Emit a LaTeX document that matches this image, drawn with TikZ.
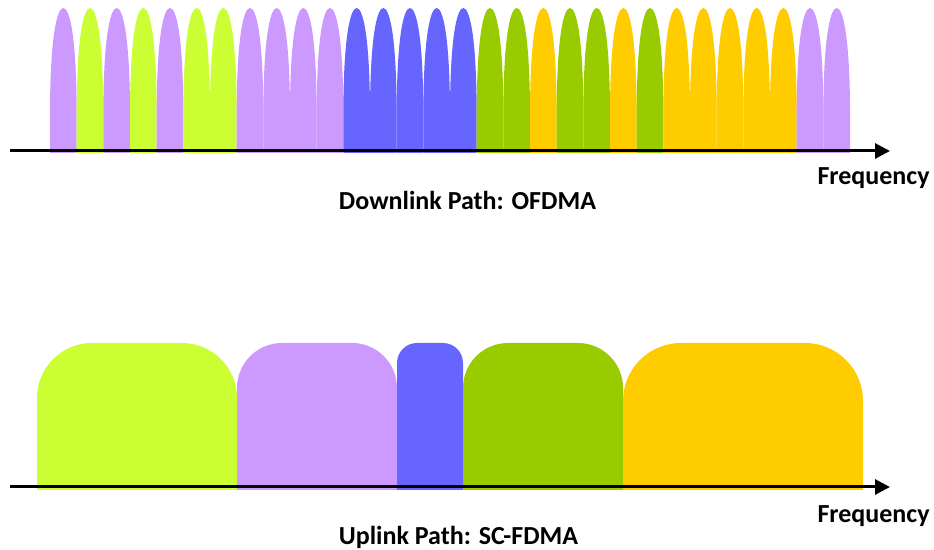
\documentclass[tikz,border=0pt]{standalone}
\usepackage{fontspec}
\setmainfont{Carlito}
\usetikzlibrary{arrows.meta}

\definecolor{chlilac}{HTML}{CC99FF}
\definecolor{chlime}{HTML}{CCFF33}
\definecolor{chblue}{HTML}{6666FF}
\definecolor{chgreen}{HTML}{99CC00}
\definecolor{chgold}{HTML}{FFCC00}

\tikzset{
  freqaxis/.style={line width=0.06cm, -{Triangle[length=0.3cm,width=0.3cm]}},
  axislabel/.style={font=\fontsize{14.8pt}{17pt}\selectfont\bfseries, inner sep=0pt}
}

\begin{document}
\begin{tikzpicture}[x=0.02cm, y=-0.02cm]
    \useasboundingbox (0,0) rectangle (934,550);

    % Downlink subcarriers
    \foreach \c [count=\i from 0] in {chlilac,chlime,chlilac,chlime,chlilac,chlime,chlime,chlilac,chlilac,chlilac,
        chlilac,chblue,chblue,chblue,chblue,chblue,chgreen,chgreen,chgold,chgreen,
        chgreen,chgold,chgreen,chgold,chgold,chgold,chgold,chgold,chlilac,chlilac} {
        \pgfmathsetmacro\x{50+\i*26.667}
        \fill[\c] (\x,153) -- (\x,115) .. controls (\x,40) and (\x+6.5,8) .. (\x+13.33,8)
            .. controls (\x+20.17,8) and (\x+26.67,40) .. (\x+26.67,115) -- (\x+26.67,153) -- cycle;
    }

    % Uplink blocks
    \fill[chlime] (37,490) [rounded corners=1.1cm] -- (37,343) -- (237,343) [sharp corners] -- (237,490) -- cycle;
    \fill[chlilac] (237,490) [rounded corners=0.9cm] -- (237,343) -- (397,343) [sharp corners] -- (397,490) -- cycle;
    \fill[chblue] (397,490) [rounded corners=0.4cm] -- (397,343) -- (463,343) [sharp corners] -- (463,490) -- cycle;
    \fill[chgreen] (463,490) [rounded corners=0.9cm] -- (463,343) -- (623,343) [sharp corners] -- (623,490) -- cycle;
    \fill[chgold] (623,490) [rounded corners=1.16cm] -- (623,343) -- (863,343) [sharp corners] -- (863,490) -- cycle;

    % Axes
    \coordinate (dlstart) at (10,151);
    \coordinate (dlend) at (890,151);
    \coordinate (ulstart) at (10,487);
    \coordinate (ulend) at (890,487);
    \draw[freqaxis] (dlstart) -- (dlend);
    \draw[freqaxis] (ulstart) -- (ulend);

    % Labels
    \node[axislabel, anchor=base east] (dlfreq) at (930,185) {Frequency};
    \node[axislabel, anchor=base] (dltitle) at (467.5,210) {Downlink Path: OFDMA};
    \node[axislabel, anchor=base east] (ulfreq) at (930,523) {Frequency};
    \node[axislabel, anchor=base] (ultitle) at (458.5,545) {Uplink Path: SC-FDMA};
\end{tikzpicture}
\end{document}
